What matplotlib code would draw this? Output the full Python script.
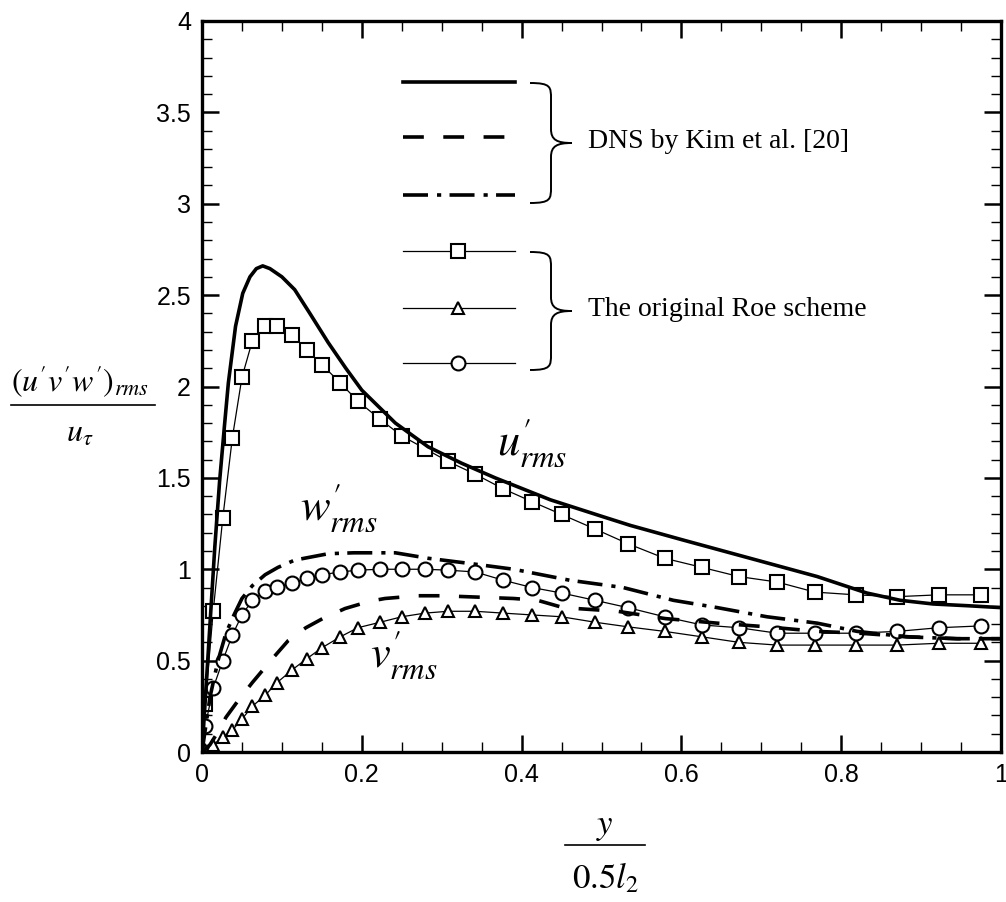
# Turbulence intensities: DNS (Kim et al.) vs the original Roe scheme.
import matplotlib

matplotlib.use("Agg")
import matplotlib.pyplot as plt
from matplotlib.path import Path
from matplotlib.patches import PathPatch

plt.rcParams["lines.scale_dashes"] = False
plt.rcParams["mathtext.fontset"] = "stix"

W, H = 1006, 902

# DNS by Kim et al. [20]
dns_u_x = [0, 0.005, 0.01, 0.016, 0.022, 0.028, 0.033, 0.042, 0.051, 0.06, 0.068,
           0.076, 0.085, 0.1, 0.116, 0.135, 0.158, 0.18, 0.2, 0.242, 0.283, 0.325,
           0.367, 0.436, 0.5, 0.536, 0.602, 0.686, 0.77, 0.832, 0.874, 0.915, 0.96, 1.0]
dns_u_y = [0, 0.35, 0.7, 1.12, 1.48, 1.78, 2.02, 2.33, 2.51, 2.6, 2.645,
           2.66, 2.645, 2.6, 2.53, 2.4, 2.24, 2.1, 1.98, 1.80, 1.67, 1.58,
           1.50, 1.38, 1.29, 1.24, 1.16, 1.06, 0.96, 0.87, 0.83, 0.81, 0.80, 0.79]

dns_v_x = [0, 0.01, 0.02, 0.03, 0.045, 0.063, 0.088, 0.108, 0.13, 0.151, 0.179,
           0.21, 0.229, 0.27, 0.3, 0.33, 0.36, 0.39, 0.42, 0.452, 0.52, 0.58,
           0.645, 0.707, 0.77, 0.823, 0.886, 0.945, 1.0]
dns_v_y = [0, 0.04, 0.11, 0.19, 0.28, 0.38, 0.51, 0.61, 0.68, 0.73, 0.785,
           0.825, 0.84, 0.855, 0.855, 0.85, 0.845, 0.84, 0.83, 0.79, 0.77, 0.73,
           0.705, 0.685, 0.66, 0.65, 0.63, 0.62, 0.62]

dns_w_x = [0, 0.005, 0.01, 0.02, 0.03, 0.04, 0.05, 0.063, 0.079, 0.095, 0.116,
           0.158, 0.19, 0.217, 0.242, 0.283, 0.338, 0.39, 0.46, 0.527, 0.59,
           0.645, 0.707, 0.77, 0.82, 0.882, 0.945, 1.0]
dns_w_y = [0, 0.15, 0.3, 0.5, 0.65, 0.75, 0.84, 0.91, 0.97, 1.01, 1.05,
           1.085, 1.09, 1.09, 1.09, 1.06, 1.03, 1.0, 0.94, 0.9, 0.83,
           0.79, 0.74, 0.705, 0.66, 0.63, 0.62, 0.62]

# the original Roe scheme (same grid for all three)
roe_x = [0.004, 0.014, 0.026, 0.038, 0.05, 0.063, 0.079, 0.094, 0.113, 0.131,
         0.15, 0.173, 0.195, 0.223, 0.25, 0.279, 0.308, 0.342, 0.377, 0.413,
         0.45, 0.492, 0.533, 0.579, 0.626, 0.672, 0.72, 0.767, 0.818, 0.87,
         0.922, 0.975]
roe_u = [0.26, 0.77, 1.28, 1.72, 2.05, 2.25, 2.33, 2.33, 2.28, 2.2,
         2.12, 2.02, 1.92, 1.82, 1.73, 1.66, 1.59, 1.52, 1.44, 1.37,
         1.30, 1.22, 1.14, 1.06, 1.01, 0.96, 0.93, 0.875, 0.86, 0.85,
         0.86, 0.86]
roe_v = [0.01, 0.04, 0.08, 0.12, 0.18, 0.25, 0.31, 0.38, 0.45, 0.51,
         0.57, 0.63, 0.68, 0.71, 0.74, 0.76, 0.77, 0.77, 0.76, 0.75,
         0.74, 0.71, 0.685, 0.66, 0.63, 0.60, 0.585, 0.585, 0.585, 0.585,
         0.595, 0.595]
roe_w = [0.14, 0.35, 0.5, 0.64, 0.75, 0.83, 0.88, 0.905, 0.925, 0.95,
         0.97, 0.985, 0.995, 1.0, 1.0, 1.0, 0.995, 0.985, 0.94, 0.9,
         0.87, 0.83, 0.79, 0.74, 0.695, 0.68, 0.65, 0.65, 0.65, 0.66,
         0.68, 0.69]

x_ticks = [0, 0.2, 0.4, 0.6, 0.8, 1.0]
x_ticklabels = ["0", "0.2", "0.4", "0.6", "0.8", "1"]
y_ticks = [0, 0.5, 1, 1.5, 2, 2.5, 3, 3.5, 4]
y_ticklabels = ["0", "0.5", "1", "1.5", "2", "2.5", "3", "3.5", "4"]

DASHED = (0, (15, 14))
DASHDOT = (0, (18, 6.5, 3, 6))
SERIF = "Liberation Serif"
SANS = "Liberation Sans"


def fx(px):
    return px / W


def fy(py):
    return 1 - py / H


fig = plt.figure(figsize=(W / 100, H / 100), dpi=100)
ax = fig.add_axes([fx(202), fy(752), (1001 - 202) / W, (752 - 21) / H])

dns_kw = dict(color="black", lw=2.6)
roe_kw = dict(color="black", lw=0.9, mfc="white", mec="black", mew=1.5)

ax.plot(roe_x, roe_u, marker="s", ms=9.5, **roe_kw)
ax.plot(roe_x, roe_v, marker="^", ms=8.5, **roe_kw)
ax.plot(roe_x, roe_w, marker="o", ms=10, **roe_kw)
ax.plot(dns_u_x, dns_u_y, ls="-", **dns_kw)
ax.plot(dns_v_x, dns_v_y, ls=DASHED, **dns_kw)
ax.plot(dns_w_x, dns_w_y, ls=DASHDOT, **dns_kw)

ax.set_xlim(0, 1)
ax.set_ylim(0, 4)
ax.set_xticks(x_ticks)
ax.set_xticklabels(x_ticklabels)
ax.set_yticks(y_ticks)
ax.set_yticklabels(y_ticklabels)
ax.set_xticks([i * 0.05 for i in range(21)], minor=True)
ax.set_yticks([i * 0.1 for i in range(41)], minor=True)
ax.tick_params(which="both", direction="in", top=True, right=True)
ax.tick_params(which="major", length=12, width=1.8, labelsize=18, pad=8)
ax.tick_params(which="minor", length=7, width=1.0)
for lab in ax.get_xticklabels() + ax.get_yticklabels():
    lab.set_fontfamily(SANS)
for sp in ax.spines.values():
    sp.set_linewidth(2.4)

# curve labels
lab_kw = dict(fontsize=32, ha="left", va="baseline")
fig.text(fx(497), fy(455), r"$u^\prime_{rms}$", **lab_kw)
fig.text(fx(300), fy(520), r"$w^\prime_{rms}$", **lab_kw)
fig.text(fx(370), fy(667), r"$v^\prime_{rms}$", **lab_kw)

# legend samples
leg_x0, leg_x1, leg_xm = fx(403), fx(515), fx(458)
rows = [(82, "-", None), (137, DASHED, None), (195, DASHDOT, None),
        (251, "-", "s"), (308, "-", "^"), (363, "-", "o")]
for py, ls, mk in rows:
    if mk is None:
        ax.plot([leg_x0, leg_x1], [fy(py)] * 2, ls=ls, transform=fig.transFigure,
                clip_on=False, **dns_kw)
    else:
        ax.plot([leg_x0, leg_x1], [fy(py)] * 2, color="black", lw=0.9,
                transform=fig.transFigure, clip_on=False)
        ms = {"s": 9.5, "^": 8.5, "o": 10}[mk]
        ax.plot([leg_xm], [fy(py)], marker=mk, ms=ms, ls="none", mfc="white",
                mec="black", mew=1.5, transform=fig.transFigure, clip_on=False)


def brace(top, bot, x0=530, xm=551, xt=572):
    mid = (top + bot) / 2
    pts = [(x0, top), (xm, top), (xm, top + 4), (xm, top + 16),
           (xm, mid - 14),
           (xm, mid - 3), (xm + 6, mid), (xt, mid),
           (xm + 6, mid), (xm, mid + 3), (xm, mid + 14),
           (xm, bot - 16),
           (xm, bot - 4), (xm, bot), (x0, bot)]
    codes = [Path.MOVETO, Path.CURVE4, Path.CURVE4, Path.CURVE4,
             Path.LINETO,
             Path.CURVE4, Path.CURVE4, Path.CURVE4,
             Path.CURVE4, Path.CURVE4, Path.CURVE4,
             Path.LINETO,
             Path.CURVE4, Path.CURVE4, Path.CURVE4]
    path = Path([(fx(a), fy(b)) for a, b in pts], codes)
    fig.add_artist(PathPatch(path, fc="none", ec="black", lw=1.4,
                             transform=fig.transFigure))


brace(83, 203)
brace(252, 370)
fig.text(fx(588), fy(141), "DNS by Kim et al. [20]", fontsize=20, family=SERIF,
         va="center", ha="left")
fig.text(fx(588), fy(309), "The original Roe scheme", fontsize=20, family=SERIF,
         va="center", ha="left")

# axis labels as stacked fractions
fig.text(fx(80), fy(392), r"$(u'v'w')_{rms}$", fontsize=23, ha="center", va="baseline")
fig.add_artist(plt.Line2D([fx(11), fx(155)], [fy(405)] * 2, color="black", lw=1.2,
                          transform=fig.transFigure))
fig.text(fx(80), fy(442), r"$u_{\tau}$", fontsize=23, ha="center", va="baseline")

fig.text(fx(605), fy(834), r"$y$", fontsize=25, ha="center", va="baseline")
fig.add_artist(plt.Line2D([fx(565), fx(645)], [fy(845)] * 2, color="black", lw=1.2,
                          transform=fig.transFigure))
fig.text(fx(605), fy(888), r"$0.5l_2$", fontsize=25, ha="center", va="baseline")

fig.savefig("out.png", dpi=100)
